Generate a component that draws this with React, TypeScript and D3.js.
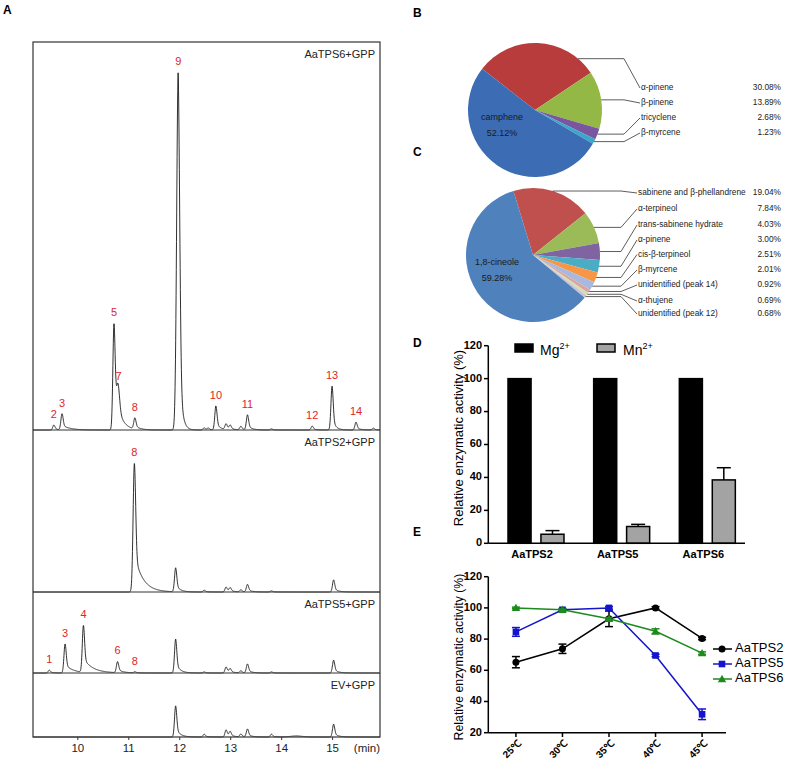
import React from "react";
import * as d3 from "d3";

// ---------- Panel A data: peaks [retention time (min), height (rel. units), tail tau?, sigma?]
const peaksTPS6: number[][] = [
  [9.53, 1.4], [9.69, 4.5, 0.15], [10.71, 29.6, 0.1], [10.79, 9, 0.12, 0.03], [11.12, 3.1, 0.1],
  [11.97, 100, 0.05, 0.03], [12.48, 0.6], [12.56, 0.5], [12.71, 6.7, 0.08], [12.91, 1.6],
  [12.99, 1.2], [13.2, 1.0], [13.33, 4.2], [13.8, 0.3], [14.6, 1.1], [14.99, 12.3, 0.06],
  [15.46, 2.2], [15.8, 0.5],
];
const peaksTPS2: number[][] = [
  [11.11, 36, 0.16, 0.025], [11.92, 6.7, 0.08], [12.48, 0.5], [12.91, 1.4], [12.99, 1.1],
  [13.2, 0.6], [13.33, 2.1], [13.8, 0.3], [15.02, 3.4],
];
const peaksTPS5: number[][] = [
  [9.44, 0.8], [9.75, 8.1, 0.15], [10.11, 13.1, 0.18], [10.78, 3.1, 0.1], [11.12, 0.3],
  [11.92, 9.5, 0.08], [12.48, 0.3], [12.91, 1.7], [12.99, 1.1], [13.2, 0.6], [13.33, 2.5],
  [13.8, 0.3], [15.02, 3.6],
];
const peaksEV: number[][] = [
  [11.92, 8.7, 0.08], [12.48, 0.8], [12.91, 2.0], [12.99, 1.4], [13.2, 0.8], [13.33, 2.2],
  [13.8, 0.8], [14.3, 0.3, 0.1, 0.12], [15.02, 3.6],
];
const chromNames = ["AaTPS6+GPP", "AaTPS2+GPP", "AaTPS5+GPP", "EV+GPP"];
// peak labels: [label, retention time]
const labelsTPS6: [string, number][] = [
  ["2", 9.53], ["3", 9.69], ["5", 10.71], ["7", 10.8], ["8", 11.12], ["9", 11.97],
  ["10", 12.71], ["11", 13.33], ["12", 14.6], ["13", 14.99], ["14", 15.46],
];
const labelsTPS2: [string, number][] = [["8", 11.11]];
const labelsTPS5: [string, number][] = [["1", 9.44], ["3", 9.75], ["4", 10.11], ["6", 10.78], ["8", 11.12]];
const timeTicks = [10, 11, 12, 13, 14, 15];

// ---------- Panel B data
const pieBNames = ["α-pinene", "β-pinene", "tricyclene", "β-myrcene", "camphene"];
const pieBValues = [30.08, 13.89, 2.68, 1.23, 52.12];
// ---------- Panel C data
const pieCNames = [
  "sabinene and β-phellandrene", "α-terpineol", "trans-sabinene hydrate", "α-pinene",
  "cis-β-terpineol", "β-myrcene", "unidentified (peak 14)", "α-thujene", "unidentified (peak 12)", "1,8-cineole",
];
const pieCValues = [19.04, 7.84, 4.03, 3.0, 2.51, 2.01, 0.92, 0.69, 0.68, 59.28];

// ---------- Panel D data
const enzymes = ["AaTPS2", "AaTPS5", "AaTPS6"];
const ions = ["Mg", "Mn"];
const mgValues = [100, 100, 100];
const mnValues = [5.5, 10.2, 38.5];
const mnErrors = [2.2, 1.3, 7.4];
const dTicks = [0, 20, 40, 60, 80, 100, 120];

// ---------- Panel E data
const temps = ["25℃", "30℃", "35℃", "40℃", "45℃"];
const tps2Temp = [65.2, 73.8, 93, 100, 80.4];
const tps2Err = [3.6, 3, 5, 0.8, 0.8];
const tps5Temp = [84.6, 98.8, 100, 69.5, 31.8];
const tps5Err = [2.8, 0.8, 0.8, 0.8, 3.4];
const tps6Temp = [100, 98.8, 93, 85, 71];
const tps6Err = [0.5, 0.5, 0.8, 1.6, 0.8];
const eTicks = [20, 40, 60, 80, 100, 120];

const FONT = "'Liberation Sans', Arial, sans-serif";

function peakShape(dt: number, sigma: number, tau: number) {
  const g = Math.exp(-(dt * dt) / (2 * sigma * sigma));
  if (dt < 0) return g;
  const a = 0.3;
  return (1 - a) * g + a * Math.exp(-dt / tau);
}
function signal(peaks: number[][], t: number) {
  let s = 0;
  for (const p of peaks) {
    const tau = p[2] ?? 0.08;
    const sig = p[3] ?? 0.022;
    s += p[1] * peakShape(t - p[0], sig, tau);
  }
  return s;
}

function PanelA() {
  const x = d3.scaleLinear().domain([9.12, 15.93]).range([33, 380]);
  const amp = d3.scaleLinear().domain([0, 100]).range([0, 358]);
  const bounds = [42, 430, 592, 673, 737];
  const allPeaks = [peaksTPS6, peaksTPS2, peaksTPS5, peaksEV];
  const allLabels = [labelsTPS6, labelsTPS2, labelsTPS5, []];
  const ts = d3.range(9.12, 15.93, 0.004);
  return (
    <g>
      <text x={3} y={14} fontFamily={FONT} fontWeight="bold" fontSize={12}>A</text>
      {allPeaks.map((pk, i) => {
        const base = bounds[i + 1];
        const line = d3.line<number>().x((t) => x(t)).y((t) => base - amp(signal(pk, t)));
        return (
          <g key={i}>
            <path d={line(ts) || ""} fill="none" stroke="#1a1a1a" strokeWidth={0.9} />
            <text x={375} y={bounds[i] + 13} textAnchor="end" dominantBaseline="middle" fontFamily={FONT} fontSize={11} fill="#222">{chromNames[i]}</text>
            {allLabels[i].map(([lab, rt], j) => (
              <text key={j} x={x(rt)} y={base - amp(signal(pk, rt)) - 10} textAnchor="middle" dominantBaseline="middle" fontFamily={FONT} fontSize={11} fill="#e0242a">{lab}</text>
            ))}
            {i < 3 && <line x1={33} x2={380} y1={base} y2={base} stroke="#333" strokeWidth={1} />}
          </g>
        );
      })}
      <rect x={33} y={42} width={347} height={695} fill="none" stroke="#333" strokeWidth={1.2} />
      {timeTicks.map((t) => (
        <g key={t}>
          <line x1={x(t)} x2={x(t)} y1={737} y2={740} stroke="#333" />
          <text x={x(t)} y={749} textAnchor="middle" dominantBaseline="middle" fontFamily={FONT} fontSize={11.5} fill="#222">{t}</text>
        </g>
      ))}
      <text x={380} y={749} textAnchor="end" dominantBaseline="middle" fontFamily={FONT} fontSize={11.5} fill="#222">(min)</text>
    </g>
  );
}

function Pie({ names, values, colors, cx, cy, r, startDeg, labelYs, elbowX, labelX, overrides, inner }: any) {
  const pie = d3.pie<number>().sort(null).value((d) => d)
    .startAngle((startDeg * Math.PI) / 180).endAngle(((startDeg + 360) * Math.PI) / 180);
  const arcs = pie(values);
  const arc = d3.arc<any>().innerRadius(0).outerRadius(r);
  const n = values.length - 1;
  return (
    <g>
      {arcs.map((a, i) => (
        <path key={i} d={arc(a) || ""} transform={`translate(${cx},${cy})`} fill={colors[i]} />
      ))}
      {arcs.slice(0, n).map((a, i) => {
        const ang = overrides[i] != null ? (overrides[i] * Math.PI) / 180 : (a.startAngle + a.endAngle) / 2;
        const px = cx + r * Math.sin(ang);
        const py = cy - r * Math.cos(ang);
        const ly = labelYs[i];
        return (
          <g key={i}>
            <polyline points={`${px},${py} ${elbowX},${py} ${labelX - 1},${ly}`} fill="none" stroke="#333" strokeWidth={0.8} />
            <text x={labelX} y={ly} dominantBaseline="middle" fontFamily={FONT} fontSize={8.3} fill="#222">{names[i]}</text>
            <text x={781} y={ly} textAnchor="end" dominantBaseline="middle" fontFamily={FONT} fontSize={8.3} fill="#222">{values[i].toFixed(2)}%</text>
          </g>
        );
      })}
      <text x={cx + inner[0]} y={cy + inner[1]} textAnchor="middle" dominantBaseline="middle" fontFamily={FONT} fontSize={9} fill="#1a1a1a">{names[n]}</text>
      <text x={cx + inner[0]} y={cy + inner[1] + 16} textAnchor="middle" dominantBaseline="middle" fontFamily={FONT} fontSize={9} fill="#1a1a1a">{values[n].toFixed(2)}%</text>
    </g>
  );
}

function PanelD() {
  const y = d3.scaleLinear().domain([0, 120]).range([543.3, 345.7]);
  const x0 = d3.scaleBand<string>().domain(enzymes).range([488, 745]);
  const x1 = d3.scaleBand<string>().domain(ions).range([20, 76]).paddingInner(0.3);
  return (
    <g fontFamily="Arial, 'Liberation Sans', sans-serif">
      <text x={413} y={347} fontWeight="bold" fontSize={12}>D</text>
      {enzymes.map((e, i) => {
        const gx = x0(e)!;
        const mx = gx + x1("Mg")!;
        const nx = gx + x1("Mn")!;
        const bw = x1.bandwidth();
        return (
          <g key={e}>
            <rect x={mx} y={y(mgValues[i])} width={bw} height={y(0) - y(mgValues[i])} fill="#000" stroke="#000" strokeWidth={1.5} />
            <line x1={nx + bw / 2} x2={nx + bw / 2} y1={y(mnValues[i])} y2={y(mnValues[i] + mnErrors[i])} stroke="#000" strokeWidth={1.5} />
            <line x1={nx + bw / 2 - 7} x2={nx + bw / 2 + 7} y1={y(mnValues[i] + mnErrors[i])} y2={y(mnValues[i] + mnErrors[i])} stroke="#000" strokeWidth={1.5} />
            <rect x={nx} y={y(mnValues[i])} width={bw} height={y(0) - y(mnValues[i])} fill="#a3a3a3" stroke="#000" strokeWidth={1.5} />
            <text x={(mx + nx + bw) / 2 - 4} y={555} textAnchor="middle" dominantBaseline="middle" fontWeight="bold" fontSize={11}>{e}</text>
          </g>
        );
      })}
      <line x1={488.3} x2={488.3} y1={y(120)} y2={y(0)} stroke="#000" strokeWidth={1.5} />
      <line x1={488.3} x2={745} y1={y(0)} y2={y(0)} stroke="#000" strokeWidth={1.5} />
      {dTicks.map((t) => (
        <g key={t}>
          <line x1={484} x2={488.3} y1={y(t)} y2={y(t)} stroke="#000" strokeWidth={1.5} />
          <text x={482} y={y(t)} textAnchor="end" dominantBaseline="middle" fontWeight="bold" fontSize={11}>{t}</text>
        </g>
      ))}
      <text transform={`translate(463,438) rotate(-90)`} textAnchor="middle" fontSize={13}>Relative enzymatic activity (%)</text>
      <rect x={515} y={344} width={18} height={8} fill="#000" stroke="#000" strokeWidth={1.5} />
      <text x={540} y={355} fontSize={14}>Mg<tspan fontSize={9} dy={-6}>2+</tspan></text>
      <rect x={597} y={344} width={18} height={8} fill="#a3a3a3" stroke="#000" strokeWidth={1.5} />
      <text x={623} y={355} fontSize={14}>Mn<tspan fontSize={9} dy={-6}>2+</tspan></text>
    </g>
  );
}

function Marker({ kind, x, y, color }: any) {
  if (kind === "circle") return <circle cx={x} cy={y} r={3.5} fill={color} />;
  if (kind === "square") return <rect x={x - 3.3} y={y - 3.3} width={6.6} height={6.6} fill={color} />;
  const s = 4.2;
  return <path d={`M${x},${y - s}L${x + s},${y + s * 0.75}L${x - s},${y + s * 0.75}Z`} fill={color} />;
}

function PanelE() {
  const y = d3.scaleLinear().domain([20, 120]).range([732.7, 576.7]);
  const x = d3.scalePoint<string>().domain(temps).range([488, 730]).padding(0.6);
  const series = [
    { name: "AaTPS2", vals: tps2Temp, errs: tps2Err, color: "#000000", kind: "circle" },
    { name: "AaTPS5", vals: tps5Temp, errs: tps5Err, color: "#1414cc", kind: "square" },
    { name: "AaTPS6", vals: tps6Temp, errs: tps6Err, color: "#1c8a1c", kind: "triangle" },
  ];
  const line = d3.line<number>().x((_, i) => x(temps[i])!).y((v) => y(v));
  return (
    <g fontFamily="Arial, 'Liberation Sans', sans-serif">
      <text x={413} y={536} fontWeight="bold" fontSize={12}>E</text>
      {series.map((s) => (
        <g key={s.name}>
          <path d={line(s.vals) || ""} fill="none" stroke={s.color} strokeWidth={1.5} />
          {s.vals.map((v, i) => {
            const px = x(temps[i])!;
            return (
              <g key={i}>
                <line x1={px} x2={px} y1={y(v - s.errs[i])} y2={y(v + s.errs[i])} stroke={s.color} strokeWidth={1.5} />
                <line x1={px - 4} x2={px + 4} y1={y(v - s.errs[i])} y2={y(v - s.errs[i])} stroke={s.color} strokeWidth={1.5} />
                <line x1={px - 4} x2={px + 4} y1={y(v + s.errs[i])} y2={y(v + s.errs[i])} stroke={s.color} strokeWidth={1.5} />
                <Marker kind={s.kind} x={px} y={y(v)} color={s.color} />
              </g>
            );
          })}
        </g>
      ))}
      <line x1={488.3} x2={488.3} y1={y(120)} y2={y(20)} stroke="#000" strokeWidth={1.5} />
      <line x1={488.3} x2={726} y1={y(20)} y2={y(20)} stroke="#000" strokeWidth={1.5} />
      {eTicks.map((t) => (
        <g key={t}>
          <line x1={484} x2={488.3} y1={y(t)} y2={y(t)} stroke="#000" strokeWidth={1.5} />
          <text x={482} y={y(t)} textAnchor="end" dominantBaseline="middle" fontWeight="bold" fontSize={11}>{t}</text>
        </g>
      ))}
      {temps.map((t) => (
        <g key={t}>
          <line x1={x(t)!} x2={x(t)!} y1={732.7} y2={737} stroke="#000" strokeWidth={1.5} />
          <text transform={`translate(${x(t)! + 4},${742}) rotate(-45)`} textAnchor="end" dominantBaseline="middle" fontWeight="bold" fontSize={10}>{t}</text>
        </g>
      ))}
      <text transform={`translate(463,657) rotate(-90)`} textAnchor="middle" fontSize={12.3}>Relative enzymatic activity (%)</text>
      {series.map((s, i) => (
        <g key={s.name}>
          <line x1={713} x2={732} y1={649 + i * 15} y2={649 + i * 15} stroke={s.color} strokeWidth={1.5} />
          <Marker kind={s.kind} x={722} y={649 + i * 15} color={s.color} />
          <text x={735} y={649 + i * 15} dominantBaseline="middle" fontSize={13}>{s.name}</text>
        </g>
      ))}
    </g>
  );
}

export default function App() {
  const colorsB = ["#b83c3c", "#94b845", "#7a56a0", "#3aa8c8", "#3c6cb4"];
  const colorsC = ["#c0504d", "#9bbb59", "#8064a2", "#4bacc6", "#f79646", "#a7b9de", "#dba3a2", "#d3dfae", "#c8c0dc", "#4f81bd"];
  return (
    <svg width={787} height={766} style={{ display: "block", position: "absolute", left: 0, top: 0 }}>
      <rect width={787} height={766} fill="#fff" />
      <PanelA />
      <text x={413} y={17} fontFamily={FONT} fontWeight="bold" fontSize={12}>B</text>
      <Pie names={pieBNames} values={pieBValues} colors={colorsB} cx={535} cy={110} r={67} startDeg={-52}
        labelYs={[88, 103, 118, 133]} elbowX={624} labelX={641} overrides={[40]} inner={[-33, 8]} />
      <text x={413} y={156} fontFamily={FONT} fontWeight="bold" fontSize={12}>C</text>
      <Pie names={pieCNames} values={pieCValues} colors={colorsC} cx={533} cy={255} r={67} startDeg={-17}
        labelYs={[193, 209, 225, 240, 254.5, 270, 285, 301, 314]} elbowX={621} labelX={638} overrides={[]} inner={[-36, 8]} />
      <PanelD />
      <PanelE />
    </svg>
  );
}
